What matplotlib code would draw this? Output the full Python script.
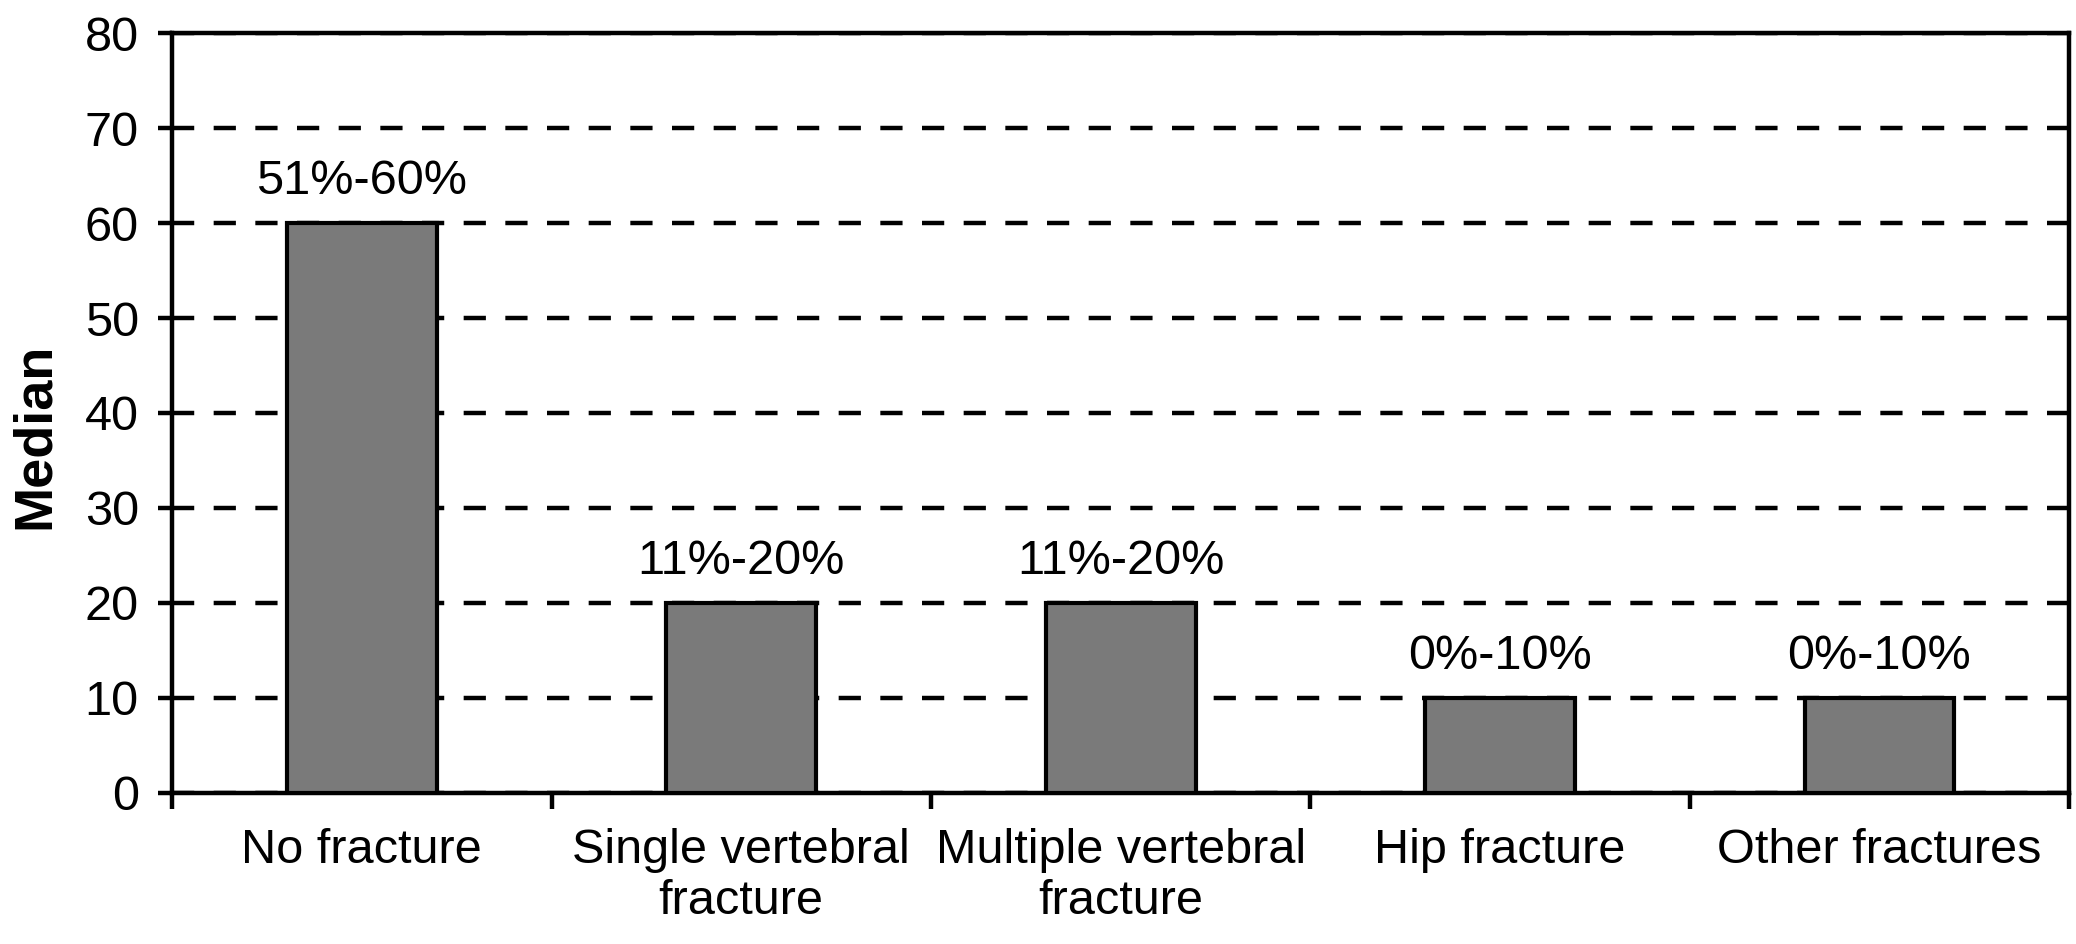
import numpy as np
import matplotlib
matplotlib.use('Agg')
import matplotlib.pyplot as plt

plt.rcParams['font.family'] = ['Liberation Sans', 'DejaVu Sans']
plt.rcParams['lines.scale_dashes'] = False

# Datos
categorias = ['No fracture', 'Single vertebral\nfracture', 'Multiple vertebral\nfracture',
              'Hip fracture', 'Other fractures']
medianas = [60, 20, 20, 10, 10]
etiquetas = ['51%-60%', '11%-20%', '11%-20%', '0%-10%', '0%-10%']
y_ticks = [0, 10, 20, 30, 40, 50, 60, 70, 80]

x = np.arange(len(categorias))

fig = plt.figure(figsize=(20.76, 9.44), dpi=100)
ax = fig.add_axes([0.0829, 0.16, 0.9138, 0.805])

ax.bar(x, medianas, width=0.395, color='#7a7a7a', edgecolor='black', linewidth=3.0, zorder=3)

# Etiquetas sobre las barras
for xi, v, lab in zip(x, medianas, etiquetas):
    ax.annotate(lab, (xi, v), xytext=(0, 21), textcoords='offset points',
                ha='center', va='baseline', fontsize=35)

ax.set_xlim(-0.5, len(categorias) - 0.5)
ax.set_ylim(0, 80)
ax.set_yticks(y_ticks)

# Ticks del eje x en los limites de cada categoria, etiquetas centradas
ax.set_xticks(np.arange(len(categorias) + 1) - 0.5)
ax.set_xticklabels([])
ax.set_xticks(x, minor=True)
ax.set_xticklabels(categorias, minor=True, fontsize=35, linespacing=1.18)
ax.tick_params(axis='x', which='major', direction='out', length=11.5, width=3.2)
ax.tick_params(axis='x', which='minor', length=0, pad=25)
ax.tick_params(axis='y', direction='out', length=10, width=3.2, labelsize=35, pad=14)

for s in ax.spines.values():
    s.set_linewidth(3.2)

ax.set_axisbelow(True)
ax.yaxis.grid(True, color='black', linewidth=3.2, linestyle=(0, (16.0, 14.0)))

ax.set_ylabel('Median', fontsize=39, fontweight='bold', va='baseline')
ax.yaxis.set_label_coords(-0.0648, 0.47)

plt.savefig('out.png', dpi=100)
